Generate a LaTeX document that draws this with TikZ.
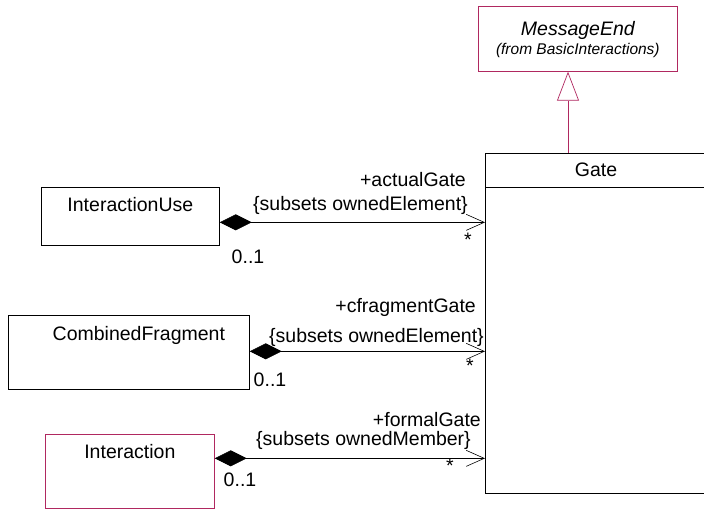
\documentclass[tikz,border=0pt]{standalone}
\usepackage{fontspec}
\setmainfont{Liberation Sans}
\usetikzlibrary{arrows.meta,positioning}
\definecolor{umlred}{RGB}{176,40,96}

\begin{document}
\begin{tikzpicture}[
  x=1pt,y=-1pt,
  font=\fontsize{19.5}{22}\selectfont,
  cls/.style={draw,line width=0.7pt,anchor=north west,inner sep=0pt},
  extcls/.style={cls,draw=umlred},
  cname/.style={inner sep=0pt},
  role/.style={inner sep=0pt,anchor=east},
  mult/.style={inner sep=0pt},
  comp/.style={line width=0.6pt,{Diamond[length=32pt,width=16pt]}-{Straight Barb[length=18pt,width=16pt]}},
  gen/.style={draw=umlred,line width=0.7pt,-{Triangle[open,fill=white,length=29pt,width=22pt]}}
]
\useasboundingbox (0,0) rectangle (704,510);

% classes
\node[extcls,minimum width=199pt,minimum height=65pt] (msgend) at (478,6) {};
\node[cname,font=\fontsize{19.5}{22}\selectfont\itshape] (msgendname) at ([yshift=-24pt]msgend.north) {MessageEnd};
\node[cname,font=\fontsize{15.5}{18}\selectfont\itshape] (msgendfrom) at ([yshift=-44pt]msgend.north) {(from BasicInteractions)};

\node[cls,minimum width=222pt,minimum height=340pt] (gate) at (485,153) {};
\node[cname] (gatename) at (596,170) {Gate};
\draw[line width=0.7pt] ([yshift=-34pt]gate.north west) -- ([yshift=-34pt]gate.north east);

\node[cls,minimum width=178pt,minimum height=58pt] (iu) at (41,187) {};
\node[cname] (iuname) at ([yshift=-18pt]iu.north) {InteractionUse};

\node[cls,minimum width=241pt,minimum height=74pt] (cf) at (8,315) {};
\node[cname] (cfname) at ([xshift=10pt,yshift=-20pt]cf.north) {CombinedFragment};

\node[extcls,minimum width=169pt,minimum height=74pt] (inter) at (45,434) {};
\node[cname] (intername) at ([yshift=-18pt]inter.north) {Interaction};

% generalization
\draw[gen] ([xshift=83pt]gate.north west) -- ([xshift=83pt]gate.north west |- msgend.south);

% compositions
\draw[comp] ([yshift=-6pt]iu.east) coordinate (s1) -- (s1 -| gate.west);
\node[role] (r1) at (466,180) {+actualGate};
\node[role] (c1) at (468,205) {\{subsets ownedElement\}};
\node[mult] (m1) at (468,240) {*};
\node[mult] (o1) at (248,257) {0..1};

\draw[comp] ([yshift=1pt]cf.east) coordinate (s2) -- (s2 -| gate.west);
\node[role] (r2) at (476,307) {+cfragmentGate};
\node[role] (c2) at (484,337) {\{subsets ownedElement\}};
\node[mult] (m2) at (470,366) {*};
\node[mult] (o2) at (270,380) {0..1};

\draw[comp] ([yshift=13pt]inter.east) coordinate (s3) -- (s3 -| gate.west);
\node[role] (r3) at (481,420) {+formalGate};
\node[role] (c3) at (471,440) {\{subsets ownedMember\}};
\node[mult] (m3) at (450,466) {*};
\node[mult] (o3) at (240,480) {0..1};
\end{tikzpicture}
\end{document}
